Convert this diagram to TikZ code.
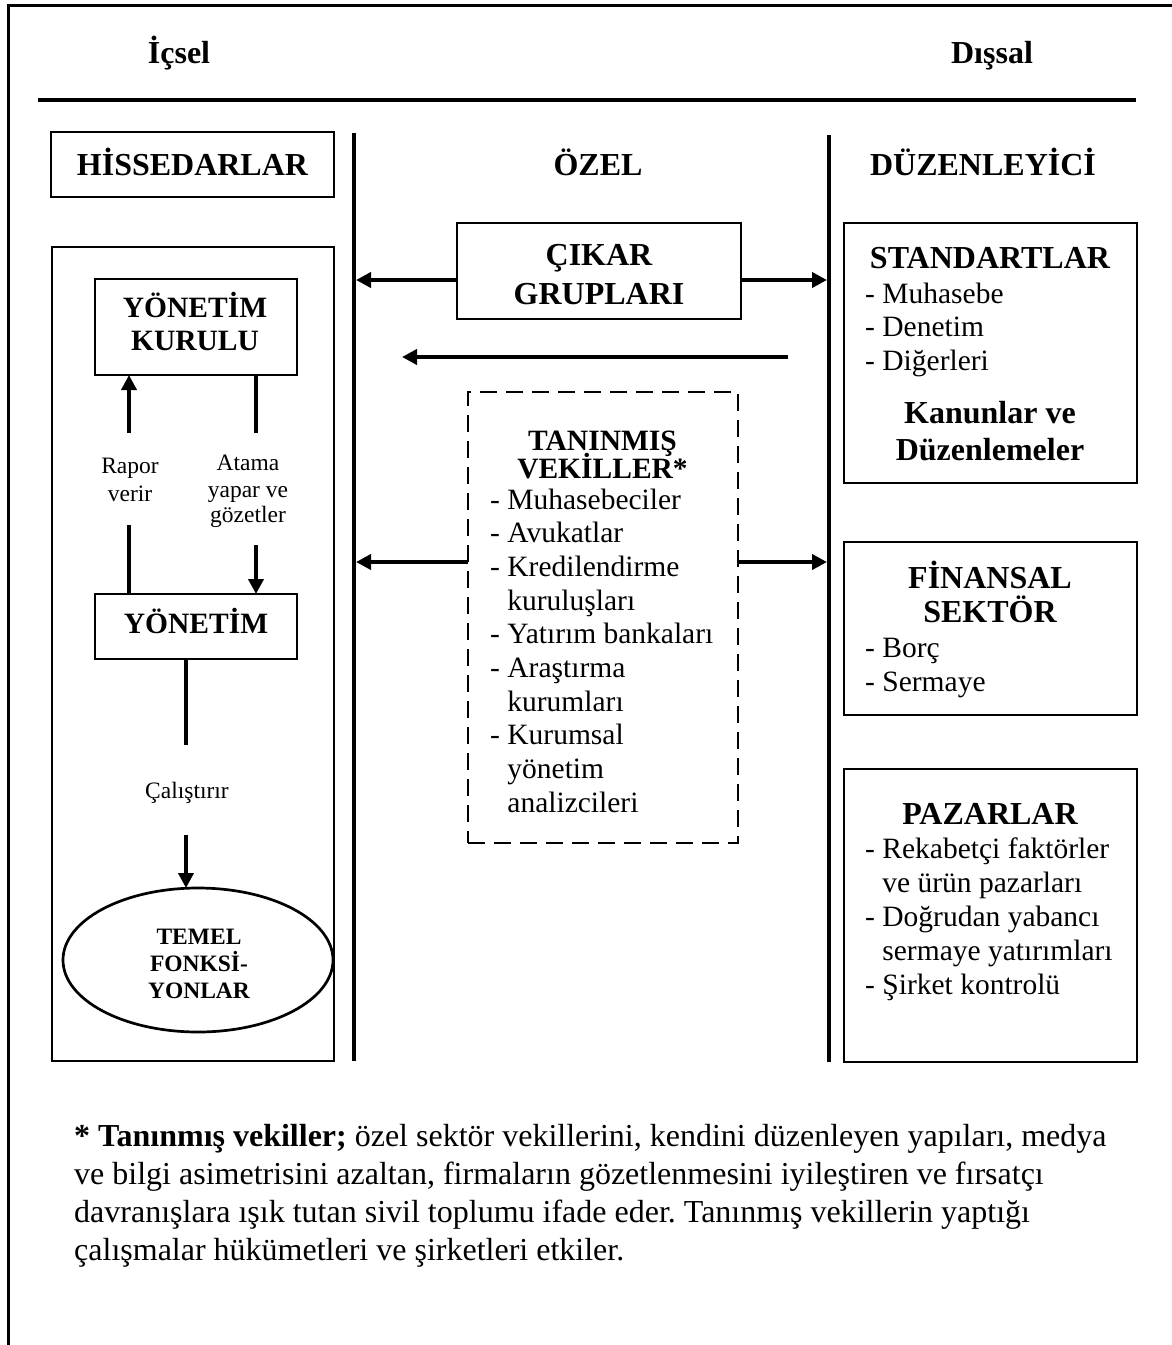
\documentclass[tikz,border=0pt]{standalone}
\usepackage{fontspec}
\setmainfont{Liberation Serif}
\usetikzlibrary{arrows.meta,shapes.geometric}
\frenchspacing

% type sizes (1pt = one unit of the drawing grid)
\newcommand\hdfont{\fontsize{32}{36.8}\selectfont\bfseries}
\newcommand\midfont{\fontsize{29.5}{34}\selectfont\bfseries}
\newcommand\bodyfont{\fontsize{29.5}{34}\selectfont}
\newcommand\lblfont{\fontsize{23.5}{27}\selectfont}
\newcommand\ovfont{\fontsize{23.5}{27}\selectfont\bfseries}
\newcommand\notefont{\fontsize{32}{38}\selectfont}

\tikzset{
  box/.style={draw, line width=2.7pt, inner sep=0pt, outer sep=0pt},
  dbox/.style={box, dash pattern=on 17pt off 9pt},
  sepline/.style={line width=4pt},
  conn/.style={line width=3.8pt},
  arr/.style={conn, -{Triangle[length=15pt,width=15pt]}},
  ctext/.style={inner sep=0pt, anchor=base},
  ltext/.style={inner sep=0pt, anchor=base west},
}

\begin{document}
\begin{tikzpicture}[x=1pt,y=-1pt]
\useasboundingbox (0,0) rectangle (1172,1345);

% page frame and headline rule
\draw[line width=2.7pt] (8.5,1360) -- (8.5,5.5) -- (1190,5.5);
\draw[line width=4pt] (37.7,100.3) -- (1136,100.3);

\node[ctext, font=\hdfont] (icsel)  at (179,63) {İçsel};
\node[ctext, font=\hdfont] (dissal) at (992,63) {Dışsal};

% column separators
\coordinate (s1t) at (354,133);  \coordinate (s1b) at (354,1061);
\coordinate (s2t) at (829,135);  \coordinate (s2b) at (829,1062);
\draw[sepline] (s1t) -- (s1b);
\draw[sepline] (s2t) -- (s2b);

% column headings
\node[box, minimum width=283pt, minimum height=65pt] (hiss) at (192.5,164.5) {};
\node[ctext, font=\hdfont] (hisst) at (192.5,175) {HİSSEDARLAR};
\node[ctext, font=\hdfont] (ozel) at (598,175) {ÖZEL};
\node[ctext, font=\hdfont] (duz) at (983,175) {DÜZENLEYİCİ};

% ---------- internal column ----------
\node[box, minimum width=282pt, minimum height=814pt] (firm) at (193,654) {};
\node[box, minimum width=202pt, minimum height=96pt] (kurulu) at (196,327) {};
\node[ctext, font=\midfont] (kurulu1) at (195,317) {YÖNETİM};
\node[ctext, font=\midfont] (kurulu2) at (195,350) {KURULU};
\node[box, minimum width=202pt, minimum height=65pt] (yonetim) at (196,626.5) {};
\node[ctext, font=\midfont] (yonetimt) at (196,633) {YÖNETİM};
\node[box, ellipse, minimum width=270pt, minimum height=144pt] (temel) at (198,960) {};
\node[ctext, font=\ovfont] (temel1) at (199,944) {TEMEL};
\node[ctext, font=\ovfont] (temel2) at (199,971) {FONKSİ-};
\node[ctext, font=\ovfont] (temel3) at (199,998) {YONLAR};

\node[ctext, font=\lblfont] (rap1) at (130,473) {Rapor};
\node[ctext, font=\lblfont] (rap2) at (130,501) {verir};
\node[ctext, font=\lblfont] (ata1) at (248,470) {Atama};
\node[ctext, font=\lblfont] (ata2) at (248,497) {yapar ve};
\node[ctext, font=\lblfont] (ata3) at (248,522) {gözetler};
\node[ctext, font=\lblfont] (cal)  at (187,798) {Çalıştırır};

\coordinate (rp1) at (129,433);  \coordinate (rp2) at (129,525);
\coordinate (at1) at (256,433);  \coordinate (at2) at (256,545);
\coordinate (cl1) at (186,745);  \coordinate (cl2) at (186,835);
\draw[arr]  (rp1) -- (rp1 |- kurulu.south);
\draw[conn] (rp2) -- (rp2 |- yonetim.north);
\draw[conn] (at1 |- kurulu.south) -- (at1);
\draw[arr]  (at2) -- (at2 |- yonetim.north);
\draw[conn] (cl1 |- yonetim.south) -- (cl1);
\draw[arr]  (cl2) -- (cl2 |- temel.north);

% ---------- private column ----------
\node[box, minimum width=284pt, minimum height=96pt] (cikar) at (599,271) {};
\node[ctext, font=\hdfont] (cikar1) at (599,265) {ÇIKAR};
\node[ctext, font=\hdfont] (cikar2) at (599,304) {GRUPLARI};
\draw[arr, shorten >=2pt] ([yshift=-9pt]cikar.west) -- ([yshift=-9pt]cikar.west -| s1t);
\draw[arr, shorten >=2pt] ([yshift=-9pt]cikar.east) -- ([yshift=-9pt]cikar.east -| s2t);

\coordinate (ma) at (788,357);  \coordinate (mb) at (402,357);
\draw[arr] (ma) -- (mb);

\node[dbox, minimum width=270pt, minimum height=451pt] (vek) at (603,617.5) {};
\node[ctext, font=\midfont] (vek1) at (602.5,450) {TANINMIŞ};
\node[ctext, font=\midfont] (vek2) at (602.5,478) {VEKİLLER*};
\foreach \t/\y [count=\i] in {- Muhasebeciler/509, - Avukatlar/542.7,
    - Kredilendirme/576.4, \hphantom{- }kuruluşları/610.1,
    - Yatırım bankaları/643.8, - Araştırma/677.5,
    \hphantom{- }kurumları/711.2, - Kurumsal/744.9,
    \hphantom{- }yönetim/778.6, \hphantom{- }analizcileri/812.3}
  \node[ltext, font=\bodyfont] (vekl\i) at (490,\y) {\t};
\draw[arr, shorten >=2pt] ([yshift=55.5pt]vek.west) -- ([yshift=55.5pt]vek.west -| s1t);
\draw[arr, shorten >=2pt] ([yshift=55.5pt]vek.east) -- ([yshift=55.5pt]vek.east -| s2t);

% ---------- regulatory column ----------
\node[box, minimum width=293pt, minimum height=260pt] (std) at (990.5,353) {};
\node[ctext, font=\hdfont] (std1) at (990,268) {STANDARTLAR};
\foreach \t/\y [count=\i] in {- Muhasebe/303, - Denetim/336.5, - Diğerleri/370}
  \node[ltext, font=\bodyfont] (stdl\i) at (865,\y) {\t};
\node[ctext, font=\hdfont] (kan1) at (990,423) {Kanunlar ve};
\node[ctext, font=\hdfont] (kan2) at (990,460) {Düzenlemeler};

\node[box, minimum width=293pt, minimum height=173pt] (fin) at (990.5,628.5) {};
\node[ctext, font=\hdfont] (fin1) at (990,588) {FİNANSAL};
\node[ctext, font=\hdfont] (fin2) at (990,622) {SEKTÖR};
\foreach \t/\y [count=\i] in {- Borç/657, - Sermaye/691}
  \node[ltext, font=\bodyfont] (finl\i) at (865,\y) {\t};

\node[box, minimum width=293pt, minimum height=293pt] (paz) at (990.5,915.5) {};
\node[ctext, font=\hdfont] (paz1) at (990,824) {PAZARLAR};
\foreach \t/\y [count=\i] in {- Rekabetçi faktörler/858, \hphantom{- }ve ürün pazarları/892,
    - Doğrudan yabancı/926, \hphantom{- }sermaye yatırımları/960, - Şirket kontrolü/994}
  \node[ltext, font=\bodyfont] (pazl\i) at (865,\y) {\t};

% ---------- footnote ----------
\node[ltext, font=\notefont] (fn1) at (74,1146) {\textbf{* Tanınmış vekiller;} özel sektör vekillerini, kendini düzenleyen yapıları, medya};
\node[ltext, font=\notefont] (fn2) at (74,1184) {ve bilgi asimetrisini azaltan, firmaların gözetlenmesini iyileştiren ve fırsatçı};
\node[ltext, font=\notefont] (fn3) at (74,1222) {davranışlara ışık tutan sivil toplumu ifade eder. Tanınmış vekillerin yaptığı};
\node[ltext, font=\notefont] (fn4) at (74,1260) {çalışmalar hükümetleri ve şirketleri etkiler.};
\end{tikzpicture}
\end{document}
